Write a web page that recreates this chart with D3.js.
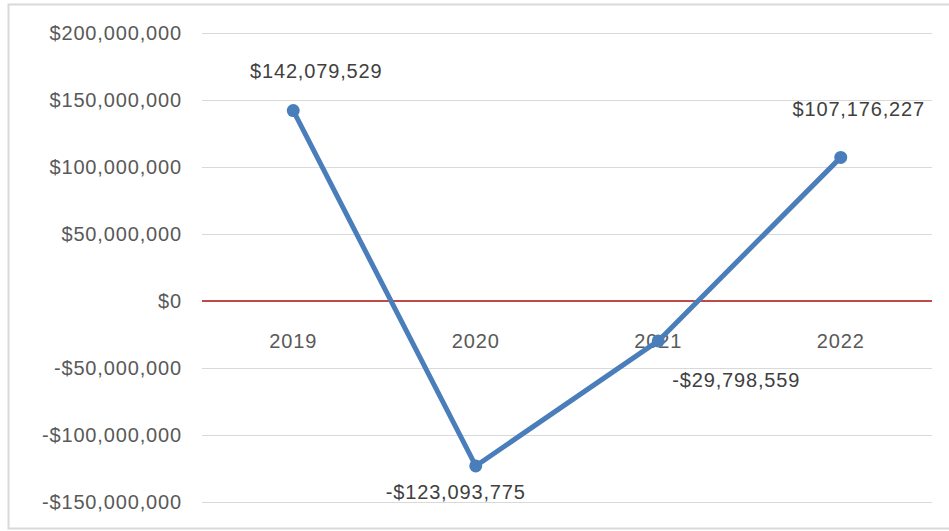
<!DOCTYPE html>
<html>
<head>
<meta charset="utf-8">
<script src="https://cdn.jsdelivr.net/npm/d3@7"></script>
<style>
  body { margin: 0; background: #fff; }
  svg { display: block; font-family: "Liberation Sans", Arial, sans-serif; }
  svg text { letter-spacing: 0.85px; }
</style>
</head>
<body>
<div id="chart"></div>
<script>
var years = ["2019", "2020", "2021", "2022"];
var netIncome = [142079529, -123093775, -29798559, 107176227];
var yTicks = [200000000, 150000000, 100000000, 50000000, 0, -50000000, -100000000, -150000000];
// label offsets from each point, in px (labels were nudged by hand in the original)
var labelShift = [[23, -40], [-20, 26], [78, 39], [18, -48]];

var width = 949;
var height = 531;

var svg = d3.select("#chart").append("svg")
  .attr("width", width)
  .attr("height", height);

svg.append("rect")
  .attr("x", 8.5).attr("y", 4.5)
  .attr("width", 945).attr("height", 524)
  .attr("fill", "#fff")
  .attr("stroke", "#d9d9d9")
  .attr("stroke-width", 2);

var x = d3.scaleBand().domain(years).range([202, 932]);
var y = d3.scaleLinear().domain([-150000000, 200000000]).range([502, 33]);

var money = function (v) {
  var s = "$" + d3.format(",")(Math.abs(v));
  return v < 0 ? "-" + s : s;
};

// gridlines
svg.append("g")
  .selectAll("line")
  .data(yTicks.filter(function (d) { return d !== 0; }))
  .enter()
  .append("line")
  .attr("x1", 202).attr("x2", 932)
  .attr("y1", function (d) { return Math.round(y(d)) + 0.5; })
  .attr("y2", function (d) { return Math.round(y(d)) + 0.5; })
  .attr("stroke", "#d9d9d9")
  .attr("stroke-width", 1);

// y axis labels
var yAxis = svg.append("g")
  .attr("transform", "translate(202,0)")
  .call(d3.axisLeft(y).tickValues(yTicks).tickSize(0).tickPadding(20).tickFormat(money));
yAxis.select(".domain").remove();
yAxis.selectAll("text")
  .attr("fill", "#595959")
  .style("font-size", "20px");

// zero line
svg.append("line")
  .attr("x1", 202).attr("x2", 932)
  .attr("y1", y(0)).attr("y2", y(0))
  .attr("stroke", "#be4b48")
  .attr("stroke-width", 2);

// category labels
var xAxis = svg.append("g")
  .attr("transform", "translate(0," + y(0) + ")")
  .call(d3.axisBottom(x).tickSize(0).tickPadding(33));
xAxis.select(".domain").remove();
xAxis.selectAll("text")
  .attr("fill", "#595959")
  .style("font-size", "20px");

var pts = years.map(function (d, i) {
  return { year: d, value: netIncome[i], i: i };
});

var line = d3.line()
  .x(function (d) { return x(d.year) + x.bandwidth() / 2; })
  .y(function (d) { return y(d.value); });

svg.append("path")
  .datum(pts)
  .attr("d", line)
  .attr("fill", "none")
  .attr("stroke", "#4a7ebb")
  .attr("stroke-width", 5)
  .attr("stroke-linejoin", "round");

svg.selectAll(".dot")
  .data(pts)
  .enter()
  .append("circle")
  .attr("class", "dot")
  .attr("cx", function (d) { return x(d.year) + x.bandwidth() / 2; })
  .attr("cy", function (d) { return y(d.value); })
  .attr("r", 6.5)
  .attr("fill", "#4a7ebb");

svg.selectAll(".lbl")
  .data(pts)
  .enter()
  .append("text")
  .attr("class", "lbl")
  .attr("x", function (d) { return x(d.year) + x.bandwidth() / 2 + labelShift[d.i][0]; })
  .attr("y", function (d) { return y(d.value) + labelShift[d.i][1]; })
  .attr("dy", "0.35em")
  .attr("text-anchor", "middle")
  .attr("fill", "#404040")
  .style("font-size", "20px")
  .text(function (d) { return money(d.value); });
</script>
</body>
</html>
